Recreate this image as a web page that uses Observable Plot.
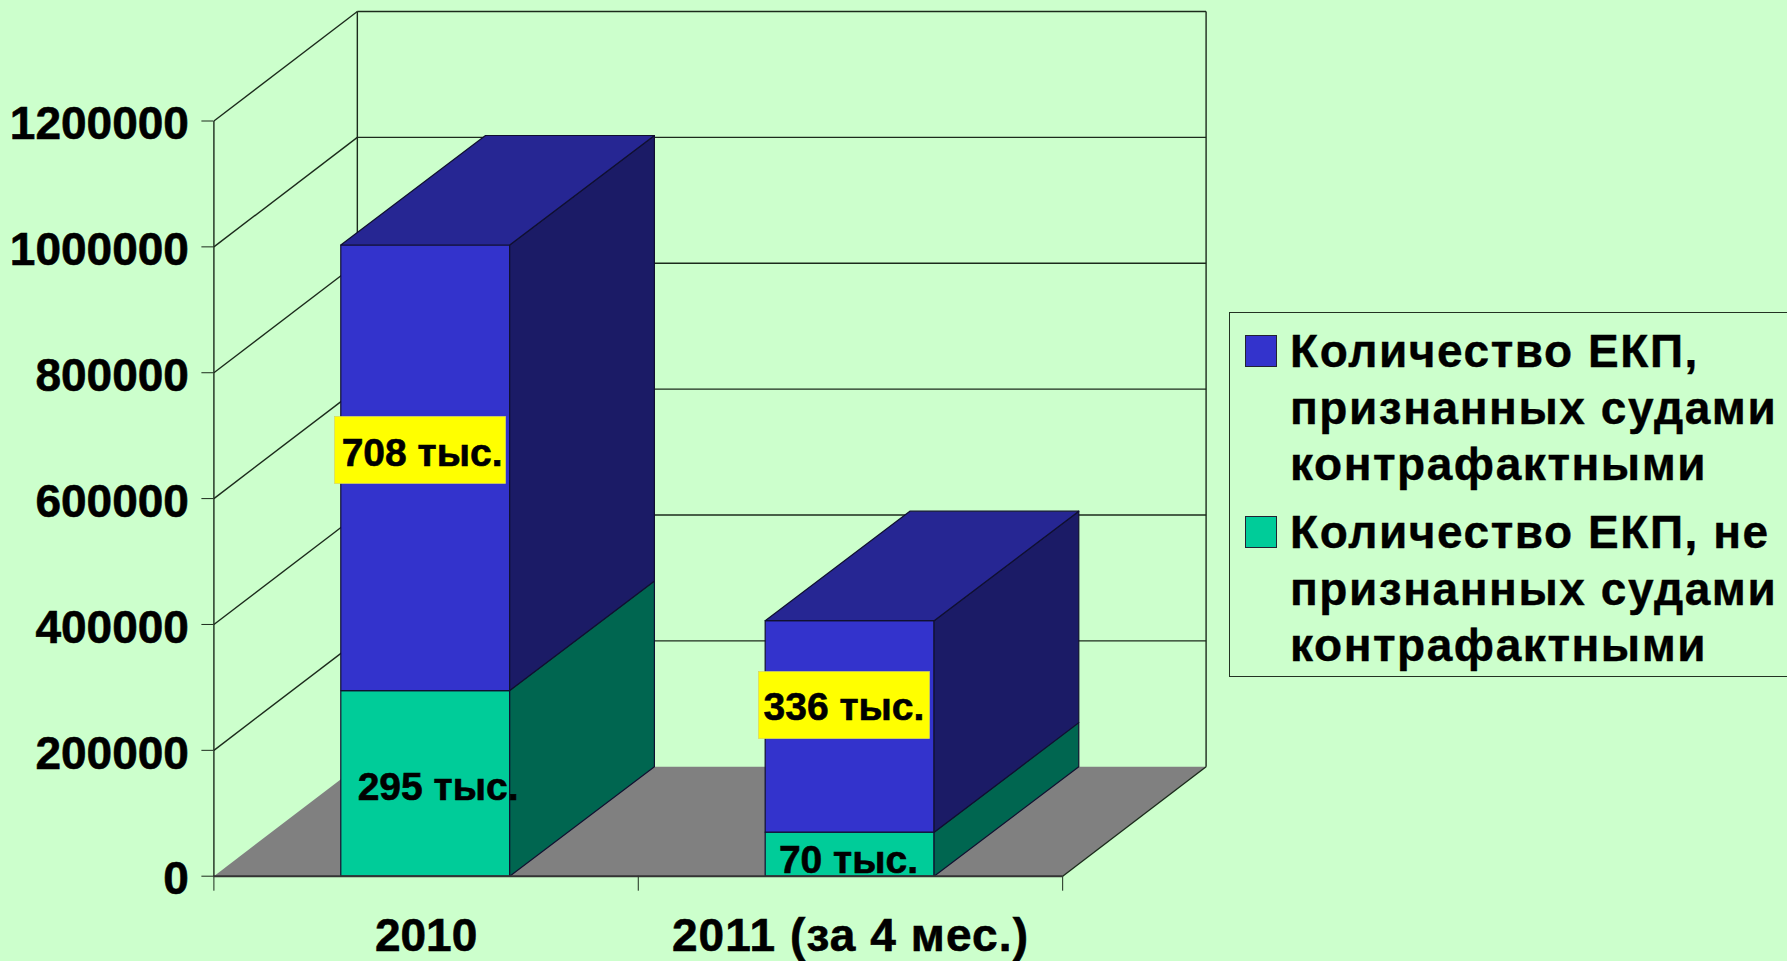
<!DOCTYPE html>
<html lang="ru">
<head>
<meta charset="utf-8">
<script src="https://cdn.jsdelivr.net/npm/d3@7"></script>
<script src="https://cdn.jsdelivr.net/npm/@observablehq/plot@0.6"></script>
<style>
html,body{margin:0;padding:0;background:#CCFFCC;overflow:hidden;width:1787px;height:961px}
#chart{position:absolute;left:0;top:0}
#chart text{stroke:#000;stroke-width:0.6px}
#legend{position:absolute;left:1229px;top:312px;width:558px;height:365px;box-sizing:border-box;border:1.5px solid #223322;border-right:none;font:bold 46px "Liberation Sans",sans-serif;letter-spacing:1.56px;color:#000;-webkit-text-stroke:0.4px #000}
#legend .sw{position:absolute;left:15px;width:32px;height:32px;box-sizing:border-box;border:1px solid #223}
#legend .tx{position:absolute;left:60px;white-space:pre;line-height:56.6px}
</style>
</head>
<body>
<div id="chart"></div>
<div id="legend"></div>
<script>
const categories = ["2010", "2011 (за 4 мес.)"];
const notRecognized = [295000, 70000];
const recognized = [708000, 336000];
const notRecognizedLabels = ["295 тыс.", "70 тыс."];
const recognizedLabels = ["708 тыс.", "336 тыс."];
const yTicks = [0, 200000, 400000, 600000, 800000, 1000000, 1200000];
const seriesNames = [
  "Количество ЕКП,\nпризнанных судами\nконтрафактными",
  "Количество ЕКП, не\nпризнанных судами\nконтрафактными"
];

// oblique projection: depth is expressed in the units of each scale
const depthX = 0.338, depthY = 174000, barDepthX = 0.341, barWidth = 0.398, barShift = -0.002;
const n = categories.length, yMax = yTicks[yTicks.length - 1];
const blue = {front: "#3333CC", top: "#262693", side: "#1B1B66"};
const green = {front: "#00CC99", top: "#00CC99", side: "#006650"};

const faces = [];
function addFace(id, fill, pts) { pts.forEach(([x, y]) => faces.push({id, fill, x, y})); }
categories.forEach((c, i) => {
  const x0 = i + 0.5 + barShift - barWidth / 2, x1 = i + 0.5 + barShift + barWidth / 2;
  const segs = [[0, notRecognized[i], green], [notRecognized[i], notRecognized[i] + recognized[i], blue]];
  segs.forEach(([a, b, col], s) => {
    addFace(`f${i}${s}`, col.front, [[x0, a], [x1, a], [x1, b], [x0, b]]);
    addFace(`s${i}${s}`, col.side, [[x1, a], [x1 + barDepthX, a + depthY], [x1 + barDepthX, b + depthY], [x1, b]]);
    if (s === 1) addFace(`t${i}${s}`, col.top, [[x0, b], [x1, b], [x1 + barDepthX, b + depthY], [x0 + barDepthX, b + depthY]]);
  });
});

const floor = [[0, 0], [n, 0], [n + depthX, depthY], [depthX, depthY]].map(([x, y]) => ({x, y}));
const wallLines = [];
yTicks.filter(v => v > 0).forEach(v => {
  wallLines.push({x1: 0, y1: v, x2: depthX, y2: v + depthY});
  wallLines.push({x1: depthX, y1: v + depthY, x2: n + depthX, y2: v + depthY});
});
wallLines.push({x1: depthX, y1: depthY, x2: depthX, y2: yMax + depthY});
wallLines.push({x1: n + depthX, y1: depthY, x2: n + depthX, y2: yMax + depthY});
wallLines.push({x1: n, y1: 0, x2: n + depthX, y2: depthY});
wallLines.push({x1: 0, y1: 0, x2: 0, y2: yMax});

const boxedLabels = recognizedLabels.map((t, i) => ({t, x: i + 0.5, y: notRecognized[i] + recognized[i] / 2}));
const plainLabels = notRecognizedLabels.map((t, i) => ({t, x: i + 0.5, y: notRecognized[i] / 2}));
const boxOffset = [[-5.5, -17.3], [-6, -20.8]], textOffset = [[-4, -14], [-6.5, -19]], plainOffset = [[12, 4], [-2, 6]];

function labelMarks(data, offs, boxed) {
  return data.flatMap((d, i) => [
    ...(boxed ? [Plot.rect([d], {x1: "x", x2: "x", y1: "y", y2: "y",
      insetLeft: -85.5, insetRight: -85.5, insetTop: -33.5, insetBottom: -33.5,
      dx: boxOffset[i][0], dy: boxOffset[i][1], fill: "#FFFF00", stroke: "#D8D860", strokeWidth: 0.7})] : []),
    Plot.text([d], {x: "x", y: "y", text: "t", dx: offs[i][0], dy: offs[i][1],
      fontSize: 39, fontWeight: "bold", fill: "#000"})
  ]);
}

const chart = Plot.plot({
  width: 1787, height: 961,
  marginLeft: 213.4, marginRight: 581.4, marginTop: 11, marginBottom: 85.3,
  style: {background: "transparent", fontFamily: "'Liberation Sans', sans-serif", color: "#000"},
  x: {domain: [0, n + depthX]},
  y: {domain: [0, yMax + depthY]},
  marks: [
    Plot.line(floor, {x: "x", y: "y", fill: "#808080", stroke: "none", curve: "linear-closed"}),
    Plot.link(wallLines, {x1: "x1", y1: "y1", x2: "x2", y2: "y2", stroke: "#1C2B1C", strokeWidth: 1.4}),
    Plot.line(faces, {x: "x", y: "y", z: "id", fill: "fill", stroke: "#101030", strokeWidth: 1.2, curve: "linear-closed"}),
    Plot.axisY({ticks: yTicks, tickSize: 12, tickFormat: () => "", label: null, stroke: "#1C2B1C"}),
    Plot.axisY({ticks: yTicks, tickSize: 0, tickPadding: 25, dy: 3.5, tickFormat: d => String(d),
      fontSize: 46, fontWeight: "bold", label: null}),
    Plot.axisX({ticks: d3.range(n + 1), tickSize: 15, tickFormat: () => "", label: null, stroke: "#1C2B1C"}),
    Plot.axisX({ticks: categories.map((c, i) => i + 0.5), tickSize: 0, tickPadding: 42,
      tickFormat: d => categories[Math.floor(d)], fontSize: 46, fontWeight: "bold", label: null}),
    Plot.ruleY([0], {x1: 0, x2: n, stroke: "#333", strokeWidth: 2}),
    ...labelMarks(boxedLabels, textOffset, true),
    ...labelMarks(plainLabels, plainOffset, false)
  ]
});
chart.querySelectorAll("text").forEach(t => {
  if (t.textContent === categories[1]) t.style.letterSpacing = "1.1px";
});
document.getElementById("chart").append(chart);

const legend = document.getElementById("legend");
const legendColors = [blue.front, green.front];
const entryTops = [10, 191];
seriesNames.forEach((name, i) => {
  const sw = document.createElement("div");
  sw.className = "sw";
  sw.style.background = legendColors[i];
  sw.style.top = (entryTops[i] + 11.5) + "px";
  legend.append(sw);
  const tx = document.createElement("div");
  tx.className = "tx";
  tx.style.top = entryTops[i] + "px";
  tx.textContent = name;
  legend.append(tx);
});
</script>
</body>
</html>
